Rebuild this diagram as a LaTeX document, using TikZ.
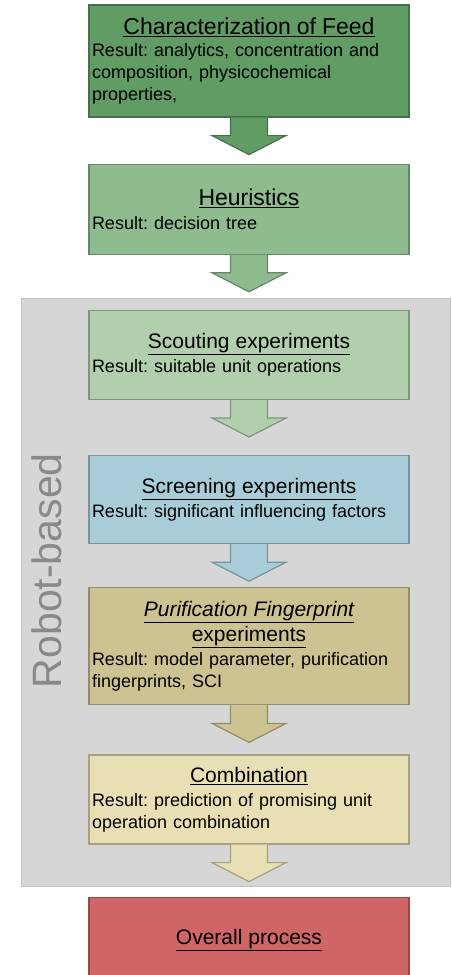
\documentclass[tikz,border=0pt]{standalone}
\usepackage{fontspec}
\setmainfont{Liberation Sans}
\frenchspacing
\usetikzlibrary{positioning, backgrounds, fit, calc}

\definecolor{feedgruen}{HTML}{619C65}
\definecolor{heurgruen}{HTML}{8FBC8F}
\definecolor{scoutgruen}{HTML}{B1CFAD}
\definecolor{screenblau}{HTML}{A9CDD8}
\definecolor{purifoliv}{HTML}{CDC392}
\definecolor{combgelb}{HTML}{E8E0B4}
\definecolor{gesamtrot}{HTML}{CF6565}
\definecolor{rahmengrau}{HTML}{D6D6D6}
\definecolor{robotgrau}{HTML}{898989}

\tikzset{stufe/.style={rectangle,draw=#1!72!black,fill=#1,line width=1.2pt,
		minimum width=320pt, text width=314pt, inner sep=3pt, align=left,
		font=\fontsize{18}{22}\selectfont},
	pfeilrand/.style={draw=#1!72!black,fill=#1,line width=1.2pt,line join=miter},
	robotrahmen/.style={rectangle,draw=rahmengrau!90!black,fill=rahmengrau,line width=1.2pt,inner sep=0},
	robotschrift/.style={text=robotgrau,font=\fontsize{41}{41}\selectfont,inner sep=0} }

% centred, underlined heading inside a left aligned box
\newcommand{\titel}[2][21]{\hfill{\fontsize{#1}{#1}\selectfont\underline{#2}}\hfill\null}

% block arrow from one box towards the next
\newcommand{\pfeil}[3]{%
	\path ($(#1.south)!18pt!(#2.north)$) coordinate (schulter)
		($(#1.south)!37pt!(#2.north)$) coordinate (spitze);
	\filldraw[pfeilrand=#3] ($(#1.south)+(-18.5,0)$) -- ($(schulter)+(-18.5,0)$)
		-- ($(schulter)+(-37,0)$) -- (spitze) -- ($(schulter)+(37,0)$)
		-- ($(schulter)+(18.5,0)$) -- ($(#1.south)+(18.5,0)$);}

\begin{document}
\begin{tikzpicture}[x=1pt,y=-1pt]
	\clip (0,0) rectangle (451,975);

	\node (feed) [stufe=feedgruen, minimum height=112pt] at (249,61)
		{\titel[23]{Characterization of Feed}\\
		 Result: analytics, concentration and\\
		 composition, physicochemical\\
		 properties,};
	\node (heur) [stufe=heurgruen, minimum height=90pt, below=46pt of feed]
		{\titel[23]{Heuristics}\\[2pt]
		 Result: decision tree};
	\node (scout) [stufe=scoutgruen, minimum height=89pt, below=55pt of heur]
		{\titel{Scouting experiments}\\[2pt]
		 Result: suitable unit operations};
	\node (screen) [stufe=screenblau, minimum height=88pt, below=55pt of scout]
		{\titel{Screening experiments}\\[2pt]
		 Result: significant influencing factors};
	\node (purif) [stufe=purifoliv, minimum height=117pt, below=43pt of screen]
		{\titel{\itshape Purification Fingerprint}\\[3pt]
		 \titel{experiments}\\[2pt]
		 Result: model parameter, purification\\
		 fingerprints, SCI};
	\node (comb) [stufe=combgelb, minimum height=89pt, below=49pt of purif]
		{\titel{Combination}\\[2pt]
		 Result: prediction of promising unit\\
		 operation combination};
	\node (gesamt) [stufe=gesamtrot, minimum height=86pt, below=52pt of comb]
		{\titel{Overall process}};

	\begin{pgfonlayer}{background}
		\fill[white] (0,0) rectangle (451,975);
		\node (rahmen) [robotrahmen, fit={($(scout.north west)+(-67,-11)$) ($(comb.south east)+(41,42)$)}] {};
	\end{pgfonlayer}
	\node (robot) [robotschrift, rotate=90, anchor=base] at ($(rahmen.west)+(41,-22)$) {Robot-based};

	\pfeil{feed}{heur}{feedgruen}
	\pfeil{heur}{scout}{heurgruen}
	\pfeil{scout}{screen}{scoutgruen}
	\pfeil{screen}{purif}{screenblau}
	\pfeil{purif}{comb}{purifoliv}
	\pfeil{comb}{gesamt}{combgelb}
\end{tikzpicture}
\end{document}
